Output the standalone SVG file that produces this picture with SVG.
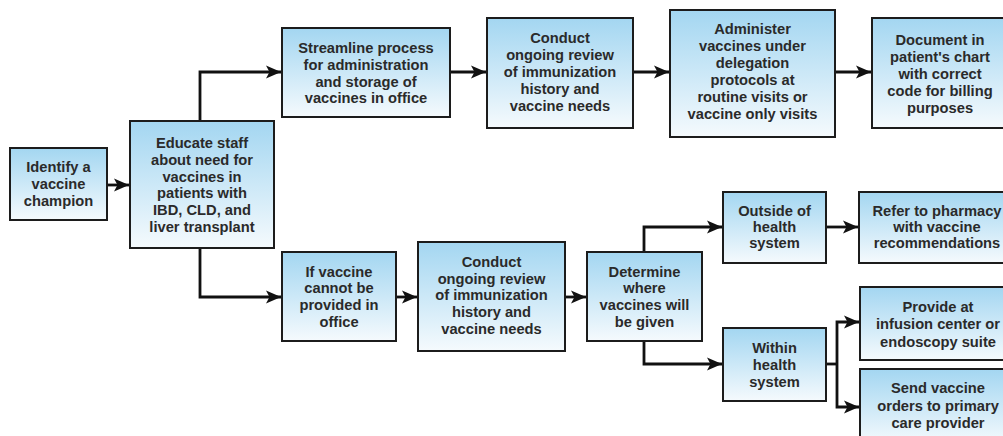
<svg xmlns="http://www.w3.org/2000/svg" width="1003" height="436" viewBox="0 0 1003 436">
<defs>
<linearGradient id="g" x1="0" y1="0" x2="0" y2="1">
<stop offset="0" stop-color="#a3d6f1"/>
<stop offset="1" stop-color="#f5fafd"/>
</linearGradient>
<marker id="ah" markerUnits="userSpaceOnUse" markerWidth="16" markerHeight="14" refX="15" refY="7" orient="auto">
<path d="M0,0.5 L15,7 L0,13.5 L3.5,7 z" fill="#111"/>
</marker>
<style>
rect.b{fill:url(#g);stroke:#1c1c1c;stroke-width:2}
text{font-family:"Liberation Sans",Arial,sans-serif;font-weight:bold;font-size:14.7px;fill:#2a2a2a;text-anchor:middle}
.c path{fill:none;stroke:#111;stroke-width:2.8}
.c path.a{marker-end:url(#ah)}
</style>
</defs>
<rect width="1003" height="436" fill="#ffffff"/>
<g class="c" id="connectors">
<path class="a" d="M107,185 H129"/>
<path class="a" d="M200,121 V72 H281"/>
<path class="a" d="M200,248 V297 H281"/>
<path class="a" d="M450,72 H486"/>
<path class="a" d="M633,72 H669"/>
<path class="a" d="M835,72 H871"/>
<path class="a" d="M396,297 H417"/>
<path class="a" d="M565,297 H586"/>
<path class="a" d="M644,252 V227 H722"/>
<path class="a" d="M644,341 V364 H722"/>
<path class="a" d="M826,227 H858"/>
<path d="M826,364 H837"/>
<path class="a" d="M837,364 V322 H859"/>
<path class="a" d="M837,364 V407 H859"/>
</g>
<g id="n1"><rect class="b" x="10" y="148" width="97" height="72"/>
<text x="58.5" y="172">Identify a</text><text x="58.5" y="189">vaccine</text><text x="58.5" y="206">champion</text></g>
<g id="n2"><rect class="b" x="130" y="121" width="144" height="127"/>
<text x="202" y="148">Educate staff</text><text x="202" y="165">about need for</text><text x="202" y="182">vaccines in</text><text x="202" y="198">patients with</text><text x="202" y="215">IBD, CLD, and</text><text x="202" y="232">liver transplant</text></g>
<g id="n3"><rect class="b" x="282" y="28" width="168" height="89"/>
<text x="366" y="53">Streamline process</text><text x="366" y="70">for administration</text><text x="366" y="87">and storage of</text><text x="366" y="103">vaccines in office</text></g>
<g id="n4"><rect class="b" x="487" y="18" width="146" height="110"/>
<text x="560" y="43">Conduct</text><text x="560" y="60">ongoing review</text><text x="560" y="77">of immunization</text><text x="560" y="94">history and</text><text x="560" y="111">vaccine needs</text></g>
<g id="n5"><rect class="b" x="670" y="10" width="165" height="127"/>
<text x="752.5" y="34">Administer</text><text x="752.5" y="51">vaccines under</text><text x="752.5" y="68">delegation</text><text x="752.5" y="85">protocols at</text><text x="752.5" y="102">routine visits or</text><text x="752.5" y="119">vaccine only visits</text></g>
<g id="n6"><rect class="b" x="872" y="18" width="140" height="110"/>
<text x="940" y="45">Document in</text><text x="940" y="62">patient's chart</text><text x="940" y="79">with correct</text><text x="940" y="96">code for billing</text><text x="940" y="113">purposes</text></g>
<g id="n7"><rect class="b" x="282" y="252" width="114" height="89"/>
<text x="339" y="277">If vaccine</text><text x="339" y="293">cannot be</text><text x="339" y="310">provided in</text><text x="339" y="327">office</text></g>
<g id="n8"><rect class="b" x="418" y="242" width="147" height="109"/>
<text x="491.5" y="267">Conduct</text><text x="491.5" y="284">ongoing review</text><text x="491.5" y="300">of immunization</text><text x="491.5" y="317">history and</text><text x="491.5" y="334">vaccine needs</text></g>
<g id="n9"><rect class="b" x="587" y="252" width="115" height="89"/>
<text x="644.5" y="277">Determine</text><text x="644.5" y="293">where</text><text x="644.5" y="310">vaccines will</text><text x="644.5" y="327">be given</text></g>
<g id="n10"><rect class="b" x="723" y="192" width="103" height="71"/>
<text x="774.5" y="216">Outside of</text><text x="774.5" y="232">health</text><text x="774.5" y="248">system</text></g>
<g id="n11"><rect class="b" x="859" y="192" width="156" height="71"/>
<text x="937" y="216">Refer to pharmacy</text><text x="937" y="232">with vaccine</text><text x="937" y="248">recommendations</text></g>
<g id="n12"><rect class="b" x="723" y="328" width="103" height="73"/>
<text x="774.5" y="352.5">Within</text><text x="774.5" y="369.5">health</text><text x="774.5" y="386.5">system</text></g>
<g id="n13"><rect class="b" x="860" y="287" width="155" height="73"/>
<text x="938" y="312">Provide at</text><text x="938" y="329">infusion center or</text><text x="938" y="347">endoscopy suite</text></g>
<g id="n14"><rect class="b" x="860" y="369" width="155" height="75"/>
<text x="938" y="393">Send vaccine</text><text x="938" y="411">orders to primary</text><text x="938" y="428">care provider</text></g>
</svg>
